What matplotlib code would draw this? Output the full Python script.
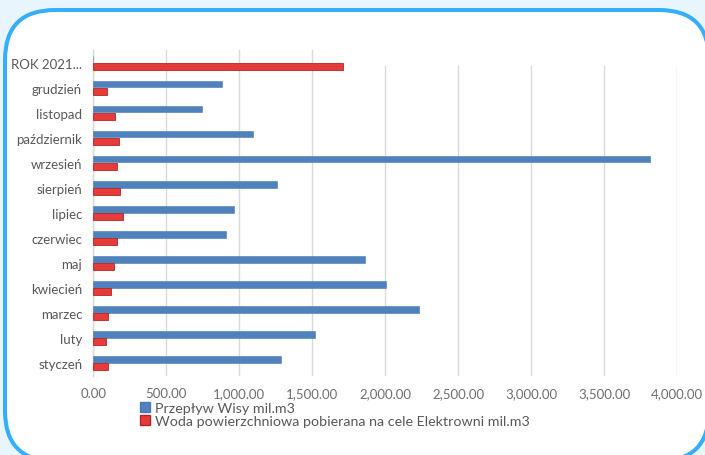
import matplotlib
matplotlib.use("Agg")
import matplotlib.pyplot as plt
from matplotlib.patches import FancyBboxPatch, Rectangle, Patch
from matplotlib.transforms import IdentityTransform
from matplotlib.ticker import FuncFormatter, MultipleLocator
import numpy as np

categories = ["styczeń", "luty", "marzec", "kwiecień", "maj", "czerwiec", "lipiec",
              "sierpień", "wrzesień", "październik", "listopad", "grudzień", "ROK 2021..."]
przeplyw = [1283, 1516, 2233, 2003, 1861, 909, 966, 1256, 3813, 1094, 742, 879, 0]
woda = [101, 85, 101, 121, 140, 164, 203, 185, 164, 176, 149, 94, 1712]
series_names = ["Przepływ Wisy mil.m3",
                "Woda powierzchniowa pobierana na cele Elektrowni mil.m3"]

W, H = 705, 456
plt.rcParams['font.family'] = ['Lato', 'DejaVu Sans']
fig = plt.figure(figsize=(W / 100, H / 100), dpi=100, facecolor="#e9f5fd")

# rounded white panel with blue border (pixel coordinates)
box = FancyBboxPatch((5, -6), 704, 451, boxstyle="round,pad=0,rounding_size=50",
                     transform=IdentityTransform(), facecolor="white",
                     edgecolor="#35aefc", linewidth=2.9, zorder=-5)
fig.patches.append(box)

ax = fig.add_axes([93.3 / W, 1 - 376.7 / H, (677.3 - 93.3) / W, (376.7 - 51) / H])
ax.set_facecolor("none")

y = np.arange(len(categories))
h = 0.27
off = 0.145
ax.barh(y + off, przeplyw, height=h, color="#4f81bd", edgecolor="#4a7ab5",
        linewidth=0.4, zorder=3)
ax.barh(y - off, woda, height=h, color="#e53b3b", edgecolor="#b52525",
        linewidth=0.6, zorder=3)

ax.set_xlim(0, 4000)
ax.set_ylim(-0.5, len(categories) - 0.5)
ax.set_yticks(y)
ax.set_yticklabels(categories)
ax.xaxis.set_major_locator(MultipleLocator(500))
ax.xaxis.set_major_formatter(FuncFormatter(lambda v, p: f"{v:,.2f}"))

ax.set_axisbelow(True)
ax.grid(axis="x", color="#d9d9d9", linewidth=1.0)
ax.grid(axis="y", visible=False)
# white occluder seen at the top right of the plot area
ax.add_patch(Rectangle((1780, 11.88), 2400, 1.0, facecolor="white",
                       edgecolor="none", zorder=1))

for s in ["top", "right", "bottom"]:
    ax.spines[s].set_visible(False)
ax.spines["left"].set_color("#d9d9d9")
ax.spines["left"].set_linewidth(1.0)
ax.tick_params(axis="both", length=0, colors="#595959", labelsize=9.5)
ax.tick_params(axis="x", colors="#6f6f6f")
ax.tick_params(axis="y", pad=8)
ax.tick_params(axis="x", pad=8)

handles = [Patch(facecolor="#4f81bd", edgecolor="#4a7ab5"),
           Patch(facecolor="#e53b3b", edgecolor="#b52525")]
leg = fig.legend(handles, series_names, loc="upper left",
                 bbox_to_anchor=(140 / W, 1 - 403 / H), frameon=False,
                 borderpad=0, borderaxespad=0, handlelength=0.7,
                 handleheight=0.7, handletextpad=0.35, labelspacing=0.1,
                 fontsize=10.3)
for t in leg.get_texts():
    t.set_color("#595959")

fig.savefig("out.png", dpi=100, facecolor=fig.get_facecolor())
